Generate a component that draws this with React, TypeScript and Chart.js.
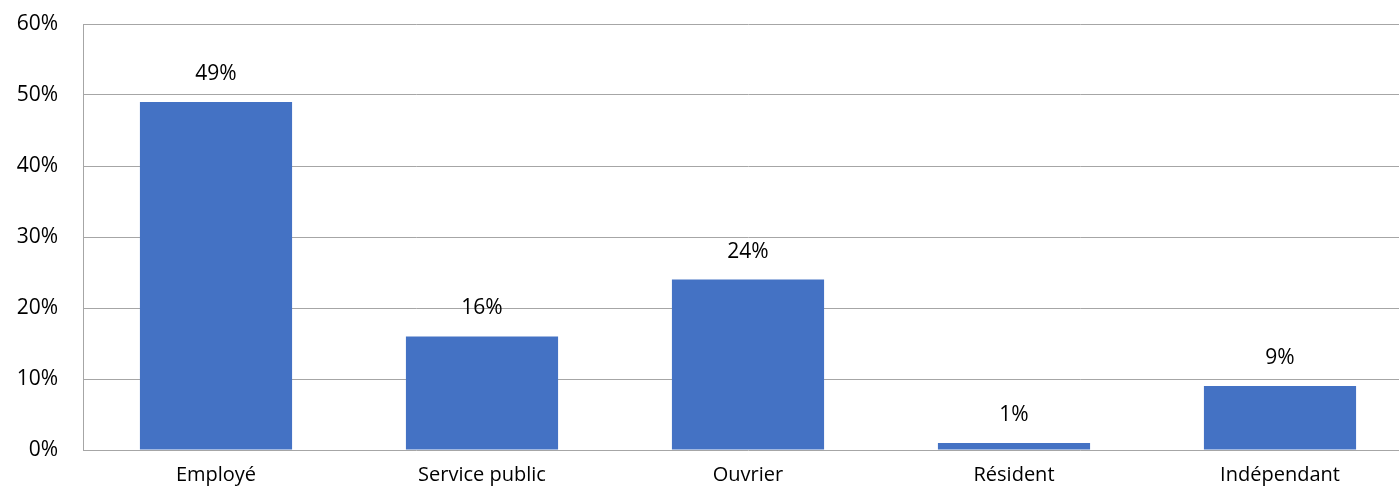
import React, { useEffect, useRef } from "react";
import { Chart, registerables } from "chart.js";

Chart.register(...registerables);

const categories = ["Employé", "Service public", "Ouvrier", "Résident", "Indépendant"];
const values = [49, 16, 24, 1, 9];
const yTicks = [0, 10, 20, 30, 40, 50, 60];

const FONT = "'Open Sans', sans-serif";

const labelPlugin = {
  id: "barLabels",
  afterDatasetsDraw(chart: any) {
    const ctx = chart.ctx;
    const meta = chart.getDatasetMeta(0);
    ctx.save();
    ctx.fillStyle = "#000";
    ctx.font = `21px ${FONT}`;
    ctx.textAlign = "center";
    ctx.textBaseline = "middle";
    meta.data.forEach((bar: any, i: number) => {
      ctx.fillText(values[i] + "%", bar.x, bar.y - 28);
    });
    ctx.restore();
  },
};

export default function App() {
  const ref = useRef<HTMLCanvasElement>(null);
  useEffect(() => {
    document.body.style.margin = "0";
    const chart = new Chart(ref.current!, {
      type: "bar",
      data: {
        labels: categories,
        datasets: [
          {
            data: values,
            backgroundColor: "#4472C4",
            categoryPercentage: 1,
            barPercentage: 0.572,
          },
        ],
      },
      options: {
        animation: false,
        responsive: false,
        layout: { padding: { top: 24, right: 0, bottom: 0, left: 0 } },
        plugins: { legend: { display: false }, tooltip: { enabled: false } },
        scales: {
          x: {
            grid: { display: false },
            border: { display: false },
            ticks: { color: "#000", font: { size: 20, family: FONT }, padding: 5, maxRotation: 0 },
            afterFit: (s: any) => {
              s.height = 48;
              s.paddingLeft = 0;
              s.paddingRight = 0;
            },
          },
          y: {
            min: 0,
            max: 60,
            afterBuildTicks: (s: any) => {
              s.ticks = yTicks.map((v) => ({ value: v }));
            },
            grid: { color: "#a6a6a6", drawTicks: false, lineWidth: 1 },
            border: { display: true, color: "#a6a6a6" },
            ticks: {
              color: "#000",
              font: { size: 21, family: FONT },
              padding: 25,
              callback: (v: any) => v + "%",
            },
            afterFit: (s: any) => {
              s.width = 83;
              s.paddingTop = 0;
              s.paddingBottom = 0;
            },
          },
        },
      },
      plugins: [labelPlugin],
    });
    return () => chart.destroy();
  }, []);
  return (
    <div style={{ width: 1399, height: 498, overflow: "hidden" }}>
      <canvas ref={ref} width={1413} height={498} style={{ display: "block" }} />
    </div>
  );
}
